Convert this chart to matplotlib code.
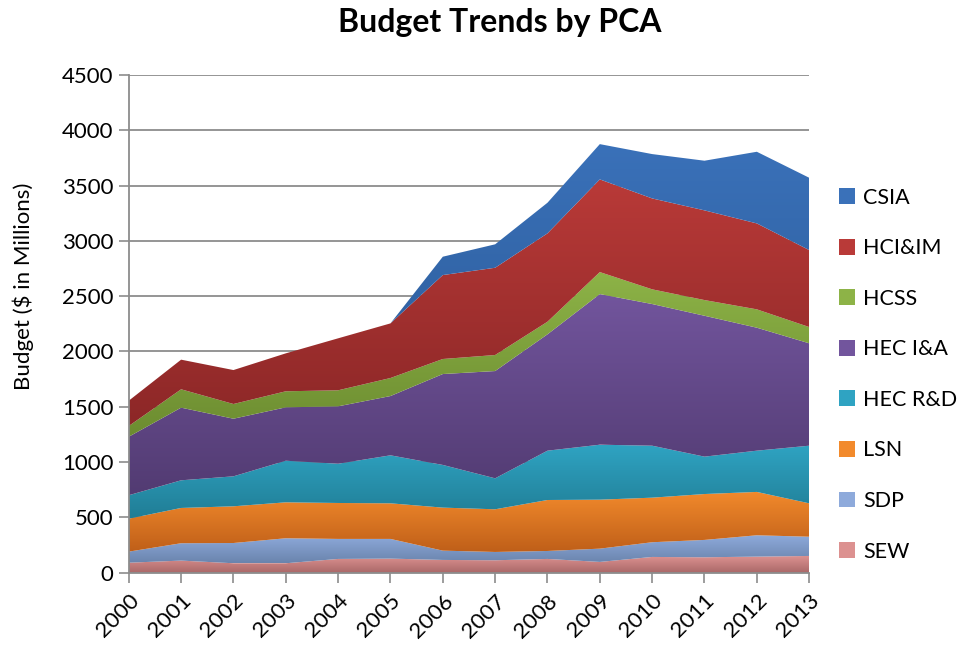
import numpy as np
import matplotlib
matplotlib.use("Agg")
import matplotlib.pyplot as plt
from matplotlib.colors import LinearSegmentedColormap
from matplotlib.patches import Patch

plt.rcParams['font.family'] = ['Lato', 'DejaVu Sans']

# años y presupuestos por PCA (millones de $)
years = list(range(2000, 2014))
sew = [90, 109, 85, 85, 124, 127, 115, 112, 124, 97, 142, 139, 145, 151]
sdp = [100, 157, 183, 226, 181, 178, 84, 75, 72, 120, 133, 157, 193, 174]
lsn = [298, 319, 332, 325, 325, 322, 389, 386, 461, 443, 403, 415, 392, 302]
hec_rd = [212, 250, 271, 376, 355, 434, 386, 280, 446, 497, 470, 338, 373, 521]
hec_ia = [529, 657, 521, 483, 519, 536, 822, 970, 1052, 1362, 1281, 1274, 1112, 926]
hcss = [97, 166, 133, 145, 145, 163, 136, 145, 114, 199, 133, 142, 166, 147]
hci_im = [229, 268, 307, 343, 470, 494, 759, 789, 799, 838, 822, 811, 777, 696]
csia = [0, 0, 0, 0, 0, 0, 166, 212, 277, 319, 401, 449, 648, 654]

nombres = ['SEW', 'SDP', 'LSN', 'HEC R&D', 'HEC I&A', 'HCSS', 'HCI&IM', 'CSIA']
series = [sew, sdp, lsn, hec_rd, hec_ia, hcss, hci_im, csia]
# (color arriba, color abajo) para el degradado tipo excel
colores = [('#dc9190', '#a96868'),
           ('#8eaadb', '#6a84ad'),
           ('#f28a2c', '#bf5f19'),
           ('#2fa3c2', '#207d95'),
           ('#72559d', '#523b72'),
           ('#8db347', '#6c8c30'),
           ('#b93a38', '#8c2727'),
           ('#3a71b9', '#2c5c9a')]


def relleno_degradado(ax, x, y0, y1, c_top, c_bot):
    poly = ax.fill_between(x, y0, y1, facecolor='none', edgecolor='none')
    path = poly.get_paths()[0]
    lo, hi = y0.min(), y1.max()
    cmap = LinearSegmentedColormap.from_list('g', [c_bot, c_top])
    img = ax.imshow(np.linspace(0, 1, 256).reshape(-1, 1), cmap=cmap,
                    aspect='auto', origin='lower',
                    extent=[x[0], x[-1], lo, hi], zorder=2)
    img.set_clip_path(path, ax.transData)


fig = plt.figure(figsize=(9.61, 6.5), dpi=100)
ax = fig.add_axes([0.134, 0.119, 0.708, 0.7656])

x = np.array(years, dtype=float)
base = np.zeros(len(years))
for vals, (ct, cb) in zip(series, colores):
    top = base + np.array(vals, dtype=float)
    relleno_degradado(ax, x, base, top, ct, cb)
    base = top

ax.set_xlim(years[0], years[-1])
ax.set_ylim(0, 4500)
ax.set_yticks(range(0, 4501, 500))
ax.set_xticks(years)
ax.set_xticklabels([str(a) for a in years], rotation=45, ha='right',
                   rotation_mode='anchor')
ax.tick_params(axis='both', labelsize=16, color='#8c8c8c', length=7,
               width=1.2, pad=4)
ax.tick_params(axis='x', pad=6)
ax.yaxis.grid(True, color='#8c8c8c', linewidth=1.3, zorder=0)
ax.set_axisbelow(True)
for lado in ['top', 'right']:
    ax.spines[lado].set_visible(False)
for lado in ['left', 'bottom']:
    ax.spines[lado].set_color('#8c8c8c')
    ax.spines[lado].set_linewidth(1.3)

fig.text(0.52, 0.966, 'Budget Trends by PCA', ha='center', va='center',
         fontsize=23, fontweight='bold')
fig.text(0.024, 0.56, 'Budget ($ in Millions)', rotation=90, ha='center',
         va='center', fontsize=16)

handles = [Patch(facecolor=c[0], edgecolor='none') for c in colores][::-1]
fig.legend(handles, nombres[::-1], loc='upper left',
           bbox_to_anchor=(0.862, 0.728), frameon=False, fontsize=15.5,
           handlelength=0.75, handleheight=0.75, handletextpad=0.35,
           labelspacing=1.42, borderpad=0)

fig.savefig('out.png', dpi=100)
